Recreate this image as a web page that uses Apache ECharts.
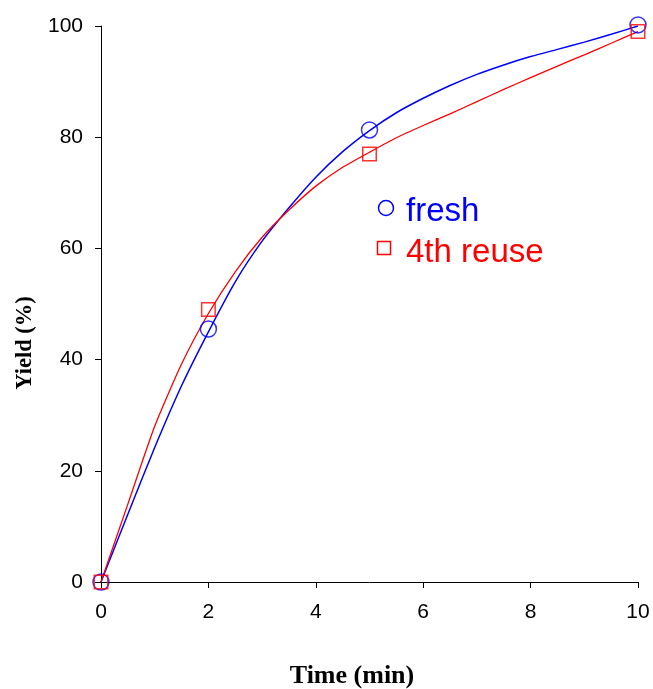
<!DOCTYPE html>
<html>
<head>
<meta charset="utf-8">
<script src="https://cdn.jsdelivr.net/npm/echarts@6/dist/echarts.min.js"></script>
<style>html,body{margin:0;padding:0;background:#fff}#c{width:653px;height:689px}</style>
</head>
<body>
<div id="c"></div>
<script>
// measured points
const timePts = [0, 2, 5, 10];
const freshPts = [0, 45.5, 81.3, 100.2];
const reusePts = [0, 49, 77, 99];
// fitted curves
const curveX = [0, 0.5, 1, 1.5, 2, 2.5, 3, 3.5, 4, 4.5, 5, 5.5, 6, 6.5, 7, 7.5, 8, 8.5, 9, 9.5, 10];
const freshCurve = [0, 12.2, 24.2, 35.3, 45, 54, 61.3, 67.3, 72.8, 77.4, 81.2, 84.4, 87.0, 89.3, 91.3, 93.0, 94.5, 95.8, 97.1, 98.5, 100];
const reuseCurve = [0, 14, 28, 39.2, 48.3, 55.8, 62, 66.9, 71.2, 74.6, 77.3, 79.9, 82.1, 84.2, 86.4, 88.6, 90.7, 92.8, 94.8, 96.9, 99];
const xTicks = [0, 2, 4, 6, 8, 10];
const yTicks = [0, 20, 40, 60, 80, 100];
const seriesNames = ['fresh', '4th reuse'];
const xTitle = 'Time (min)';
const yTitle = 'Yield (%)';

const zip = (a, b) => a.map((v, i) => [v, b[i]]);
const chart = echarts.init(document.getElementById('c'), null, {renderer: 'canvas'});
const axisFont = {fontFamily: 'Liberation Sans, Arial', fontSize: 21, color: '#000'};
const titleFont = 'Liberation Serif, Times New Roman';
chart.setOption({
  animation: false,
  backgroundColor: '#fff',
  grid: {left: 101, right: 15, top: 26, bottom: 107},
  graphic: [
    {type: 'text', x: 25, y: 343, rotation: Math.PI / 2,
     style: {text: yTitle, align: 'center', verticalAlign: 'middle', fontFamily: titleFont, fontWeight: 'bold', fontSize: 22.5, fill: '#000'}},
    {type: 'text', x: 352, y: 676,
     style: {text: xTitle, align: 'center', verticalAlign: 'middle', fontFamily: titleFont, fontWeight: 'bold', fontSize: 26, fill: '#000'}},
    {type: 'circle', shape: {cx: 386, cy: 208, r: 7.5},
     style: {fill: 'rgba(0,0,0,0)', stroke: '#0000ff', lineWidth: 1.5}},
    {type: 'text', x: 406, y: 212,
     style: {text: seriesNames[0], align: 'left', verticalAlign: 'middle', fontFamily: 'Liberation Sans, Arial', fontSize: 33, fill: '#0000ff'}},
    {type: 'rect', shape: {x: 377.5, y: 241.5, width: 13, height: 13},
     style: {fill: 'rgba(0,0,0,0)', stroke: '#ff0000', lineWidth: 1.5}},
    {type: 'text', x: 406, y: 253,
     style: {text: seriesNames[1], align: 'left', verticalAlign: 'middle', fontFamily: 'Liberation Sans, Arial', fontSize: 33, fill: '#ff0000'}}
  ],
  xAxis: {
    type: 'value', min: 0, max: 10, interval: 2,
    axisLine: {show: true, lineStyle: {color: '#000', width: 1}},
    axisTick: {show: true, length: 6, lineStyle: {color: '#000'}},
    axisLabel: Object.assign({margin: 20, formatter: v => xTicks.includes(v) ? String(v) : ''}, axisFont),
    splitLine: {show: false}
  },
  yAxis: {
    type: 'value', min: 0, max: 100, interval: 20,
    axisLine: {show: true, lineStyle: {color: '#000', width: 1}},
    axisTick: {show: true, length: 6, lineStyle: {color: '#000'}},
    axisLabel: Object.assign({margin: 18, formatter: v => yTicks.includes(v) ? String(v) : ''}, axisFont),
    splitLine: {show: false}
  },
  series: [
    {type: 'line', data: zip(curveX, freshCurve), smooth: 0.2, showSymbol: false, symbol: 'none',
     lineStyle: {color: '#0000ff', width: 1.5}, z: 2, silent: true},
    {type: 'line', data: zip(curveX, reuseCurve), smooth: 0.2, showSymbol: false, symbol: 'none',
     lineStyle: {color: '#ff0000', width: 1.3}, z: 2, silent: true},
    {name: seriesNames[0], type: 'scatter', data: zip(timePts, freshPts), symbol: 'circle', symbolSize: 16, clip: false,
     itemStyle: {color: 'rgba(255,255,255,0)', borderColor: '#0000ff', borderWidth: 1.5}, z: 3},
    {name: seriesNames[1], type: 'scatter', data: zip(timePts, reusePts), symbol: 'rect', symbolSize: 13.5, clip: false,
     itemStyle: {color: 'rgba(255,255,255,0)', borderColor: '#ff0000', borderWidth: 1.5}, z: 4}
  ]
});
</script>
</body>
</html>
